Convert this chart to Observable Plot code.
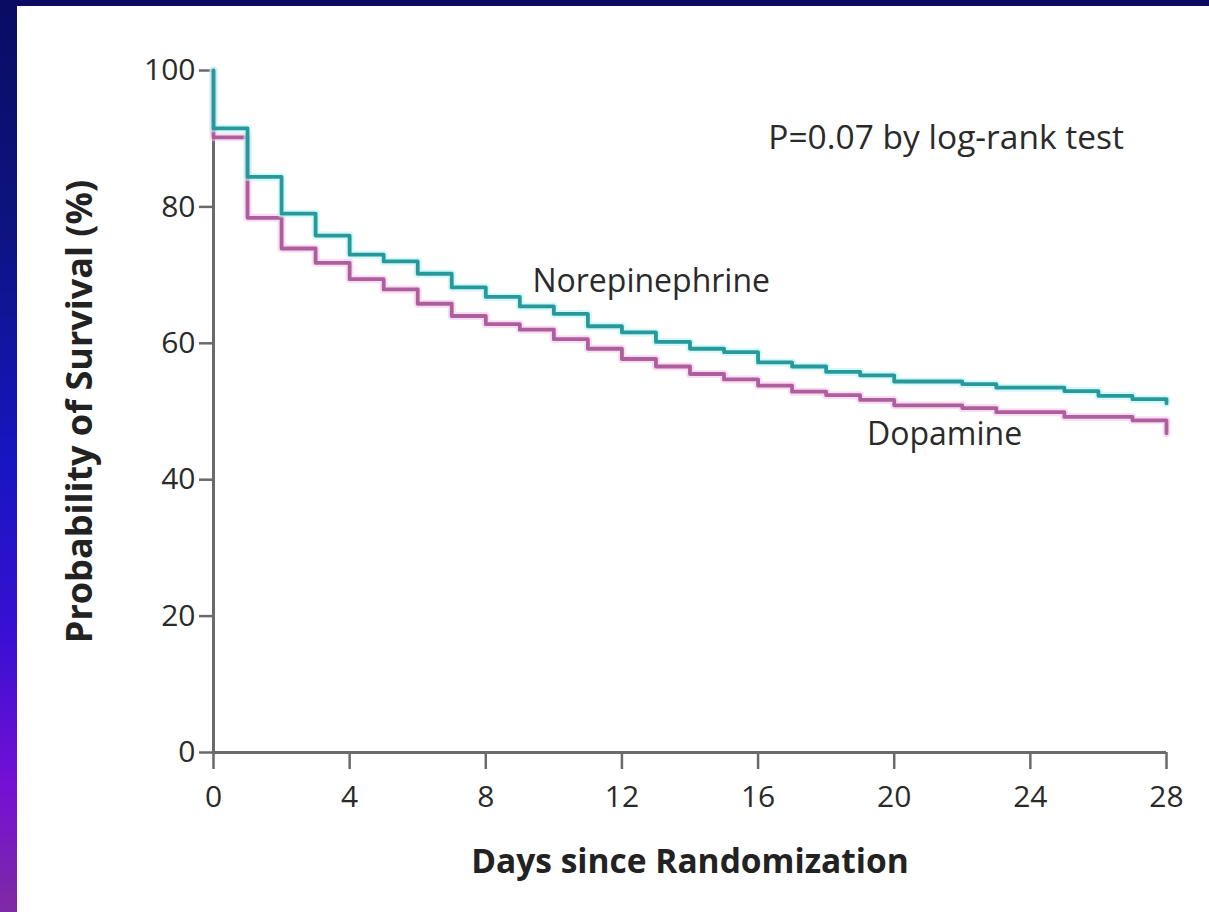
<!DOCTYPE html>
<html>
<head>
<meta charset="utf-8">
<script src="https://cdn.jsdelivr.net/npm/d3@7"></script>
<script src="https://cdn.jsdelivr.net/npm/@observablehq/plot@0.6"></script>
<style>
  html, body { margin: 0; padding: 0; }
  body {
    width: 1209px; height: 912px; overflow: hidden; position: relative;
    background: linear-gradient(to bottom, #0a0c62 0%, #0c1480 25%, #1616c0 50%, #3a10d2 70%, #7410d4 86%, #7e2aa4 100%);
  }
  #panel { position: absolute; left: 17px; top: 6px; right: 0; bottom: 0; background: #fff; }
  #chart { position: absolute; left: 0; top: 0; }
</style>
</head>
<body>
<div id="panel"></div>
<div id="chart"></div>
<script>
// Days (step times) and survival (%) per group
const days = [0, 0, 1, 2, 3, 4, 5, 6, 7, 8, 9, 10, 11, 12, 13, 14, 15, 16, 17, 18, 19, 20, 21, 22, 23, 24, 25, 26, 27, 28];
const norepinephrine = [100, 91.5, 84.4, 79.0, 75.8, 73.0, 72.0, 70.2, 68.2, 66.8, 65.4, 64.3, 62.5, 61.6, 60.2, 59.2, 58.7, 57.2, 56.6, 55.8, 55.3, 54.4, 54.4, 54.0, 53.5, 53.5, 53.0, 52.3, 51.8, 51.2];
const dopamine = [100, 90.2, 78.4, 73.9, 71.8, 69.4, 67.9, 65.8, 64.0, 62.8, 62.0, 60.6, 59.2, 57.7, 56.6, 55.5, 54.7, 53.8, 52.9, 52.4, 51.7, 50.9, 50.9, 50.5, 49.9, 49.9, 49.2, 49.2, 48.7, 46.8];
const xTicks = [0, 4, 8, 12, 16, 20, 24, 28];
const yTicks = [0, 20, 40, 60, 80, 100];

const nor = days.map((d, i) => ({day: d, surv: norepinephrine[i]}));
const dop = days.map((d, i) => ({day: d, surv: dopamine[i]}));

const font = "'Open Sans', Lato, sans-serif";
const axisColor = "#6a6a6a";

const plot = Plot.plot({
  width: 1209,
  height: 912,
  marginLeft: 213,
  marginRight: 43,
  marginTop: 70,
  marginBottom: 160,
  x: {domain: [0, 28]},
  y: {domain: [0, 100]},
  style: {background: "transparent", fontFamily: font, fontSize: "30px", color: "#2a2a2a"},
  marks: [
    Plot.axisX({ticks: xTicks, tickSize: 17, tickPadding: 16, label: null, stroke: axisColor, strokeWidth: 2.5, fontSize: 30}),
    Plot.axisY({ticks: yTicks, tickSize: 14, tickPadding: 4, label: null, stroke: axisColor, strokeWidth: 2.5, fontSize: 30}),
    Plot.ruleY([0], {stroke: axisColor, strokeWidth: 3}),
    Plot.ruleX([0], {stroke: axisColor, strokeWidth: 3}),
    Plot.line(dop, {x: "day", y: "surv", curve: "step-after", stroke: "#f3c6ea", strokeWidth: 8, strokeOpacity: 0.6}),
    Plot.line(dop, {x: "day", y: "surv", curve: "step-after", stroke: "#ad5e9c", strokeWidth: 3.8}),
    Plot.line(nor, {x: "day", y: "surv", curve: "step-after", stroke: "#b8f4f4", strokeWidth: 8, strokeOpacity: 0.6}),
    Plot.line(nor, {x: "day", y: "surv", curve: "step-after", stroke: "#27999a", strokeWidth: 3.8}),
    Plot.text(["Norepinephrine"], {x: 9.37, y: 69.0, text: d => d, textAnchor: "start", fontSize: 32, fill: "#2a2a2a"}),
    Plot.text(["Dopamine"], {x: 19.2, y: 46.6, text: d => d, textAnchor: "start", fontSize: 32, fill: "#2a2a2a"}),
    Plot.text(["P=0.07 by log-rank test"], {x: 16.3, y: 90.0, text: d => d, textAnchor: "start", fontSize: 33.5, fill: "#2a2a2a"}),
    Plot.text(["Days since Randomization"], {frameAnchor: "bottom", dy: 120, text: d => d, fontSize: 33.5, fontWeight: "bold", fill: "#222"}),
    Plot.text(["Probability of Survival (%)"], {frameAnchor: "left", dx: -133, rotate: -90, textAnchor: "middle", text: d => d, fontSize: 36, fontWeight: "bold", fill: "#222"})
  ]
});
document.getElementById("chart").appendChild(plot);
</script>
</body>
</html>
